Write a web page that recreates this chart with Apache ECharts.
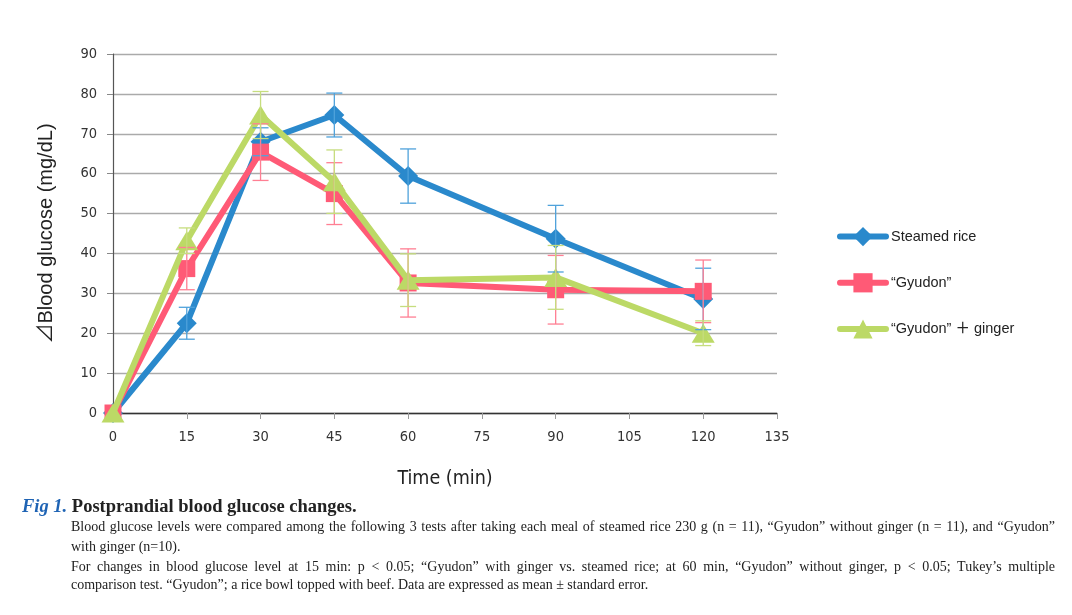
<!DOCTYPE html>
<html>
<head>
<meta charset="utf-8">
<script src="https://cdn.jsdelivr.net/npm/echarts@6/dist/echarts.min.js"></script>
<style>
  html, body { margin: 0; padding: 0; background: #fff; }
  #wrap { position: relative; width: 1072px; height: 615px; }
  #chart { position: absolute; left: 0; top: 0; width: 1072px; height: 615px; }
  #cap { position: absolute; left: 0; top: 0; width: 1072px; height: 615px; pointer-events: none; font-family: 'Liberation Serif', 'Times New Roman', serif; color: #222; }
  .title { position: absolute; left: 22px; top: 496px; font-size: 18.5px; font-weight: bold; white-space: nowrap; }
  .title .fig { color: #1e63b4; font-style: italic; }
  .line { position: absolute; left: 71px; width: 984px; font-size: 14px; white-space: nowrap; }
  .just { text-align: justify; text-align-last: justify; white-space: normal; }
</style>
</head>
<body>
<div id="wrap">
  <div id="chart"></div>
  <div id="cap">
    <div class="title"><span class="fig">Fig 1.</span> Postprandial blood glucose changes.</div>
    <div class="line just" style="top:519px">Blood glucose levels were compared among the following 3 tests after taking each meal of steamed rice 230 g (n = 11), “Gyudon” without ginger (n = 11), and “Gyudon”</div>
    <div class="line" style="top:539px">with ginger (n=10).</div>
    <div class="line just" style="top:559px">For changes in blood glucose level at 15 min: p &lt; 0.05; “Gyudon” with ginger vs. steamed rice; at 60 min, “Gyudon” without ginger, p &lt; 0.05; Tukey’s multiple</div>
    <div class="line" style="top:577px">comparison test. “Gyudon”; a rice bowl topped with beef. Data are expressed as mean ± standard error.</div>
  </div>
</div>
<script>
// ---- data ----
const times = [0, 15, 30, 45, 60, 90, 120];
const seriesNames = ['Steamed rice', '“Gyudon”', '“Gyudon” ＋ ginger'];
const steamedRice = [0, 22.5, 68.0, 74.7, 59.4, 43.7, 28.6];
const steamedRiceSE = [0, 4.0, 3.5, 5.5, 6.8, 8.35, 7.7];
const gyudon = [0, 36.2, 65.4, 55.0, 32.6, 30.9, 30.5];
const gyudonSE = [0, 5.3, 7.1, 7.75, 8.55, 8.6, 7.85];
const gyudonGinger = [0, 43.2, 74.7, 58.0, 33.3, 34.0, 20.0];
const gyudonGingerSE = [0, 3.2, 5.9, 7.95, 6.6, 8.0, 3.1];
const xTicks = [0, 15, 30, 45, 60, 75, 90, 105, 120, 135];
const yTicks = [0, 10, 20, 30, 40, 50, 60, 70, 80, 90];

const colors = ['#2a89cc', '#ff5a76', '#bcd966'];
const errColors = ['#4fa2db', '#ff7f93', '#c6dd7e'];
const symbols = ['diamond', 'rect', 'triangle'];
const symbolSizes = [20, 17, [23, 19]];
const means = [steamedRice, gyudon, gyudonGinger];
const ses = [steamedRiceSE, gyudonSE, gyudonGingerSE];

const narrow = "'Liberation Sans Narrow', 'DejaVu Sans Condensed', 'Liberation Sans', sans-serif";
const sans = "'Liberation Sans', 'Noto Sans CJK JP', sans-serif";

const chart = echarts.init(document.getElementById('chart'), null, { renderer: 'canvas' });

const lineSeries = seriesNames.map((name, i) => ({
  name: name,
  type: 'line',
  z: 2 + i,
  data: times.map((t, k) => [t, means[i][k]]),
  symbol: symbols[i],
  symbolSize: symbolSizes[i],
  showAllSymbol: true,
  lineStyle: { color: colors[i], width: 6 },
  itemStyle: { color: colors[i] },
  emphasis: { disabled: true },
  animation: false
}));

const errSeries = seriesNames.map((name, i) => ({
  name: name + ' SE',
  type: 'custom',
  z: 10,
  silent: true,
  animation: false,
  data: times.map((t, k) => [t, means[i][k], ses[i][k]]),
  renderItem: function (params, api) {
    const x = api.value(0), y = api.value(1), e = api.value(2);
    if (!e) return null;
    const top = api.coord([x, y + e]);
    const bot = api.coord([x, y - e]);
    const hw = 8;
    const st = { stroke: errColors[i], lineWidth: 1.3 };
    return {
      type: 'group',
      children: [
        { type: 'line', shape: { x1: top[0], y1: top[1], x2: bot[0], y2: bot[1] }, style: st },
        { type: 'line', shape: { x1: top[0] - hw, y1: top[1], x2: top[0] + hw, y2: top[1] }, style: st },
        { type: 'line', shape: { x1: bot[0] - hw, y1: bot[1], x2: bot[0] + hw, y2: bot[1] }, style: st }
      ]
    };
  }
}));

chart.setOption({
  backgroundColor: '#fff',
  animation: false,
  grid: { left: 113, right: 295, top: 54, bottom: 202, containLabel: false },
  legend: {
    data: seriesNames,
    orient: 'vertical',
    left: 832,
    top: 222,
    itemWidth: 46,
    itemHeight: 24,
    itemGap: 27,
    selectedMode: false,
    lineStyle: { width: 6, cap: 'round' },
    textStyle: { fontFamily: sans, fontSize: 14.5, color: '#222', fontWeight: 500 }
  },
  xAxis: {
    type: 'value',
    min: 0,
    max: 135,
    interval: 15,
    name: 'Time (min)',
    nameLocation: 'middle',
    nameGap: 56,
    nameTextStyle: { fontFamily: narrow, fontSize: 19.5, color: '#222' },
    axisLine: { show: true, lineStyle: { color: '#333', width: 1.3 } },
    axisTick: { show: true, length: 6, lineStyle: { color: '#999' } },
    axisLabel: { fontFamily: narrow, fontSize: 14.5, color: '#333', margin: 17, formatter: v => (xTicks.includes(v) ? String(v) : '') },
    splitLine: { show: false }
  },
  yAxis: {
    type: 'value',
    min: 0,
    max: 90,
    interval: 10,
    name: '⊿Blood glucose (mg/dL)',
    nameLocation: 'middle',
    nameGap: 57,
    nameTextStyle: { fontFamily: sans, fontSize: 20, color: '#222' },
    axisLine: { show: true, lineStyle: { color: '#555', width: 1.2 } },
    axisTick: { show: true, length: 6, lineStyle: { color: '#888' } },
    axisLabel: { fontFamily: narrow, fontSize: 14.5, color: '#333', margin: 16, formatter: v => (yTicks.includes(v) ? String(v) : '') },
    splitLine: { show: true, lineStyle: { color: '#aaaaaa', width: 1.4 } }
  },
  series: lineSeries.concat(errSeries)
});
</script>
</body>
</html>
